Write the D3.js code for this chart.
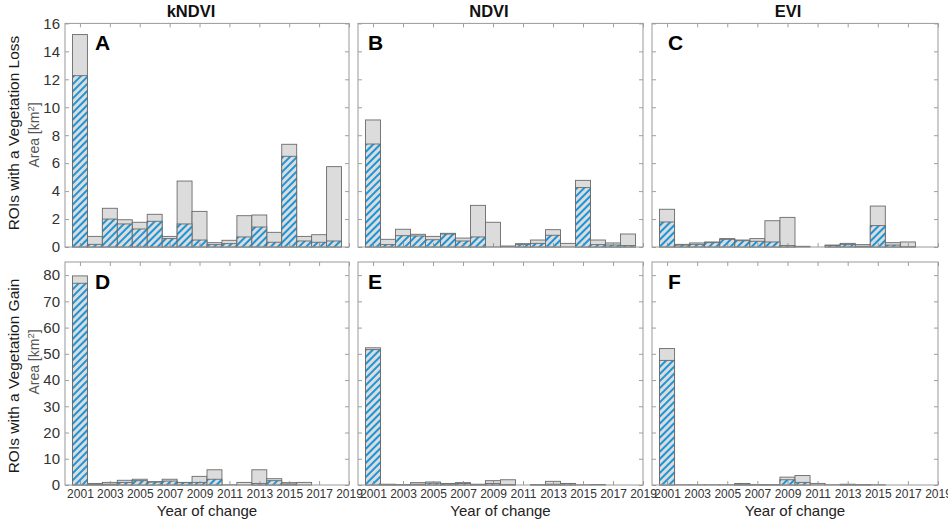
<!DOCTYPE html>
<html><head><meta charset="utf-8">
<script src="https://cdn.jsdelivr.net/npm/d3@7/dist/d3.min.js"></script>
<style>
html,body{margin:0;padding:0;background:#fff;}
svg{display:block;font-family:"Liberation Sans",Arial,Helvetica,sans-serif;}
</style></head>
<body>
<svg id="chart" width="948" height="521"></svg>
<script>
const years = [2001,2002,2003,2004,2005,2006,2007,2008,2009,2010,2011,2012,2013,2014,2015,2016,2017,2018];
const xTicks = [2001,2003,2005,2007,2009,2011,2013,2015,2017,2019];
const lossTicks = [0,2,4,6,8,10,12,14,16];
const gainTicks = [0,10,20,30,40,50,60,70,80];
const indices = ["kNDVI","NDVI","EVI"];
const panelLetters = ["A","B","C","D","E","F"];

const lossTotalK = [15.2,0.76,2.77,1.95,1.77,2.34,0.76,4.72,2.55,0.31,0.48,2.24,2.29,1.05,7.35,0.76,0.88,5.75];
const lossHatchK = [12.26,0.19,2.0,1.65,1.29,1.84,0.6,1.65,0.5,0.17,0.24,0.72,1.43,0.34,6.49,0.43,0.34,0.43];
const lossTotalN = [9.09,0.55,1.27,0.91,0.76,0.98,0.64,2.98,1.77,0.07,0.24,0.5,1.24,0.26,4.77,0.5,0.29,0.93];
const lossHatchN = [7.37,0.17,0.81,0.79,0.52,0.93,0.43,0.72,0,0,0.17,0.26,0.84,0,4.25,0.17,0.14,0.1];
const lossTotalE = [2.7,0.19,0.29,0.36,0.6,0.5,0.6,1.88,2.12,0.05,0,0.14,0.26,0.17,2.93,0.31,0.36,0];
const lossHatchE = [1.79,0.14,0.19,0.31,0.55,0.45,0.41,0.36,0.1,0,0,0.1,0.19,0.05,1.53,0.14,0.02,0];

const gainTotalK = [79.7,0.6,1.0,1.8,2.2,1.27,2.2,1.0,3.3,5.8,0.1,1.0,5.8,2.4,0.9,1.0,0,0];
const gainHatchK = [76.9,0.3,0.3,1.0,1.65,1.1,1.5,0.9,1.0,2.2,0,0,0.6,1.65,0.4,0,0,0];
const gainTotalN = [52.3,0.3,0.2,0.9,1.15,0.6,0.9,0.3,1.65,2.0,0,0.2,1.4,0.6,0.1,0.2,0,0];
const gainHatchN = [51.6,0.2,0.1,0.3,0.7,0.4,0.6,0.2,0.6,0.2,0,0.1,0.3,0.5,0,0,0,0];
const gainTotalE = [52.0,0.1,0.1,0.1,0.1,0.6,0.2,0.2,3.0,3.6,0.6,0.1,0.3,0.2,0.1,0,0,0];
const gainHatchE = [47.5,0,0,0,0,0.4,0.1,0.1,2.0,1.0,0,0,0.1,0.1,0,0,0,0];

const svg = d3.select("#chart");
const defs = svg.append("defs");
const pat = defs.append("pattern").attr("id","hatch")
  .attr("patternUnits","userSpaceOnUse").attr("width",5).attr("height",5)
  .attr("patternTransform","rotate(45)");
pat.append("rect").attr("width",5).attr("height",5).attr("fill","#dcdcdc");
pat.append("line").attr("x1",1).attr("y1",0).attr("x2",1).attr("y2",5)
  .attr("stroke","#1b95d8").attr("stroke-width",2);

const colL = [65,358,652], colR = [349,643,938];
const rowT = [23.4,262], rowB = [247,485];
const yMax = [16,85];
const rowTicks = [lossTicks, gainTicks];
const rowLabels = ["ROIs with a Vegetation Loss","ROIs with a Vegetation Gain"];
const titleX = [191,489,788];
const letterX = [95,368,668];
const letterY = [50,289];

const panels = [
  [lossTotalK,lossHatchK],[lossTotalN,lossHatchN],[lossTotalE,lossHatchE],
  [gainTotalK,gainHatchK],[gainTotalN,gainHatchN],[gainTotalE,gainHatchE]
];

const ax = (axis, tx, ty, fs) => {
  const a = svg.append("g").attr("transform",`translate(${tx},${ty})`).call(axis);
  a.attr("font-family",null).attr("font-size",null);
  a.select(".domain").remove();
  a.selectAll(".tick line").attr("stroke","#888").attr("stroke-width",0.8);
  a.selectAll(".tick text").attr("fill","#333").attr("font-size",fs||12);
  return a;
};

panels.forEach((p,i)=>{
  const r = Math.floor(i/3), c = i%3;
  const x = d3.scaleLinear().domain([2000,2019]).range([colL[c],colR[c]]);
  const y = d3.scaleLinear().domain([0,yMax[r]]).range([rowB[r],rowT[r]]);
  const g = svg.append("g");
  const [tot,hat] = p;
  g.selectAll("rect.tot").data(years).enter().append("rect").attr("class","tot")
    .attr("x",d=>x(d-0.5)).attr("width",d=>x(d+0.5)-x(d-0.5))
    .attr("y",(d,j)=>y(tot[j])).attr("height",(d,j)=>y(0)-y(tot[j]))
    .attr("fill","#dcdcdc").attr("stroke","#6a6a6a").attr("stroke-width",0.9);
  g.selectAll("rect.hat").data(years).enter().append("rect").attr("class","hat")
    .attr("x",d=>x(d-0.5)).attr("width",d=>x(d+0.5)-x(d-0.5))
    .attr("y",(d,j)=>y(hat[j])).attr("height",(d,j)=>y(0)-y(hat[j]))
    .attr("fill","url(#hatch)").attr("stroke","#6a6a6a").attr("stroke-width",0.9)
    .attr("display",(d,j)=>hat[j]>0?null:"none");

  ax(d3.axisBottom(x).tickValues(xTicks).tickSize(-4).tickPadding(4)
      .tickFormat(r===1?d3.format("d"):()=>""), 0, rowB[r], 12);
  ax(d3.axisTop(x).tickValues(xTicks).tickSize(-4).tickFormat(()=>""), 0, rowT[r]);
  ax(d3.axisLeft(y).tickValues(rowTicks[r]).tickSize(-4).tickPadding(5)
      .tickFormat(c===0?d3.format("d"):()=>""), colL[c], 0, 15);
  ax(d3.axisRight(y).tickValues(rowTicks[r]).tickSize(-4).tickFormat(()=>""), colR[c], 0);

  svg.append("rect").attr("x",colL[c]).attr("y",rowT[r])
    .attr("width",colR[c]-colL[c]).attr("height",rowB[r]-rowT[r])
    .attr("fill","none").attr("stroke","#999").attr("stroke-width",1);

  svg.append("text").attr("x",letterX[c]).attr("y",letterY[r])
    .attr("font-size",21).attr("font-weight","bold").attr("fill","#000")
    .text(panelLetters[i]);

  if (r===0) {
    svg.append("text").attr("x",titleX[c]).attr("y",17).attr("text-anchor","middle")
      .attr("font-size",16.5).attr("font-weight","bold").attr("fill","#111").text(indices[c]);
  } else {
    svg.append("text").attr("x",(colL[c]+colR[c])/2).attr("y",516).attr("text-anchor","middle")
      .attr("font-size",15).attr("fill","#222").text("Year of change");
  }
});

[0,1].forEach(r=>{
  const cy = [133,376][r];
  const cy2 = [135,362][r];
  svg.append("text").attr("transform",`translate(19,${cy}) rotate(-90)`)
    .attr("text-anchor","middle").attr("font-size",15.5).attr("fill","#1a1a1a")
    .text(rowLabels[r]);
  const t = svg.append("text").attr("transform",`translate(39,${cy2}) rotate(-90)`)
    .attr("text-anchor","middle").attr("font-size",14).attr("fill","#555");
  t.append("tspan").text("Area [km");
  t.append("tspan").attr("font-size",9.5).attr("dy",-5).text("2");
  t.append("tspan").attr("dy",5).text("]");
});
</script>
</body></html>
